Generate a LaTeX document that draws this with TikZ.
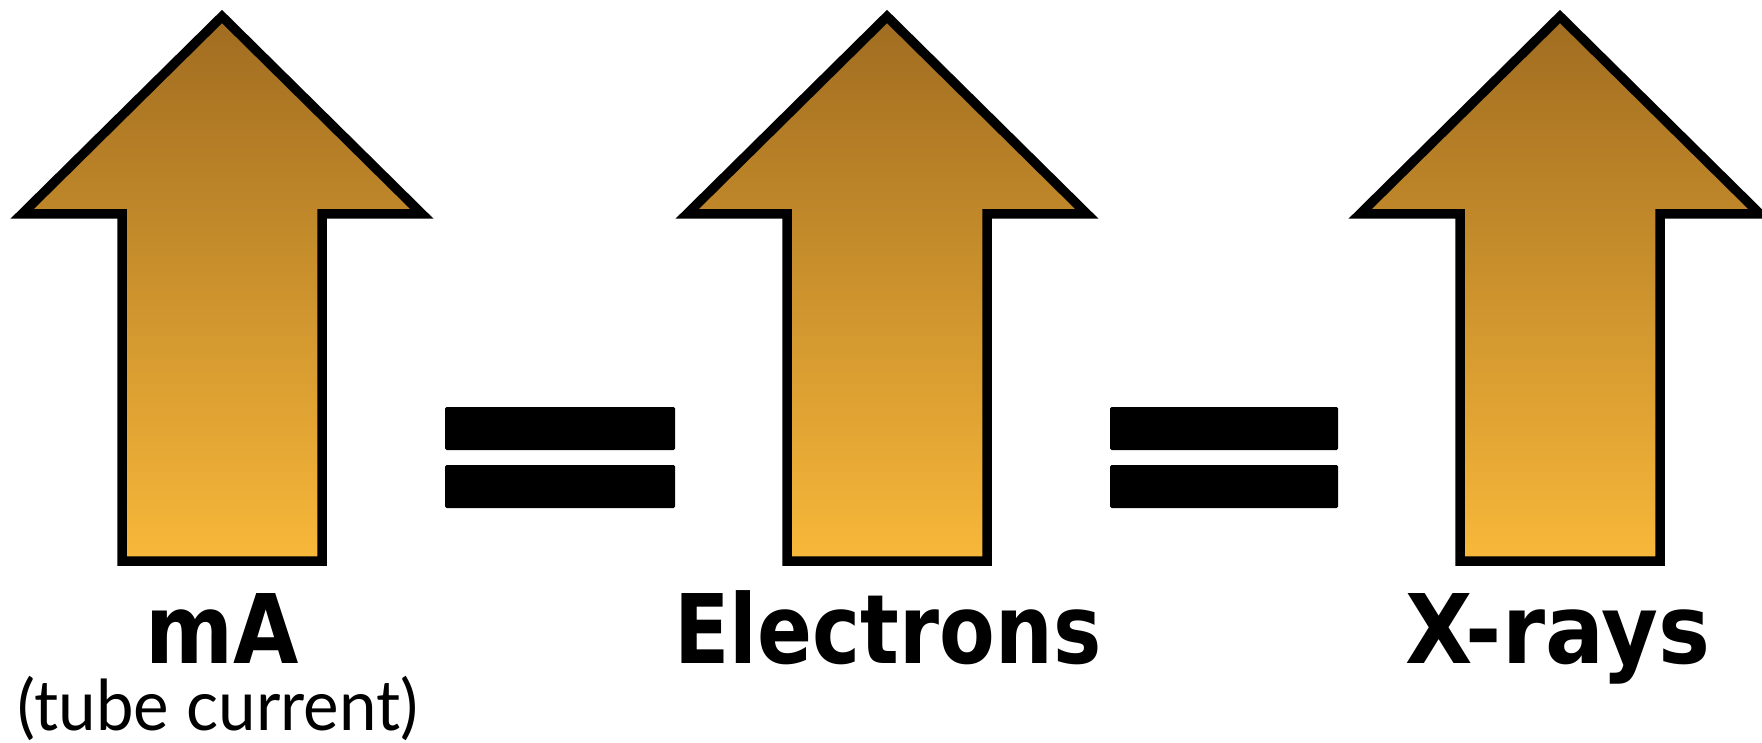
\documentclass[tikz,border=0pt]{standalone}
\usepackage{fontspec}
\newfontfamily\labfont{DejaVu Sans}
\newfontfamily\subfont{Lato}
\begin{document}
\begin{tikzpicture}[x=1pt,y=-1pt,
  uparrow/.style={draw=black, line width=9.5pt, line join=miter, miter limit=10,
    top color={rgb,255:red,160;green,108;blue,32}, bottom color={rgb,255:red,248;green,184;blue,58}},
  eqbar/.style={fill=black, rounded corners=1.5pt},
  biglabel/.style={anchor=base, inner sep=0pt, text depth=0pt, font=\labfont\bfseries\fontsize{96}{110}\selectfont},
  smalllabel/.style={anchor=base, inner sep=0pt, font=\subfont\fontsize{70}{80}\selectfont}]
\useasboundingbox (0,0) rectangle (1762,743);
\clip (0,0) rectangle (1762,743);
\fill[white] (0,0) rectangle (1762,743);
% arrows
\foreach \c/\n in {222/a1, 887/a2, 1560/a3}{
  \draw[uparrow] (\c,16.5) -- (\c+200,214) -- (\c+100,214) -- (\c+100,561)
     -- (\c-100,561) -- (\c-100,214) -- (\c-200,214) -- cycle;
}
% equal signs
\fill[eqbar] (445,407) rectangle (675,450);
\fill[eqbar] (445,465) rectangle (675,508);
\fill[eqbar] (1110,407) rectangle (1338,450);
\fill[eqbar] (1110,465) rectangle (1338,508);
% labels
\node[biglabel] (ma) at (222,663) {\scalebox{0.88}[1]{mA}};
\node[smalllabel] (tc) at (218,730) {\scalebox{0.96}[1]{(tube current)}};
\node[biglabel] (el) at (888,663) {\scalebox{0.845}[1]{Electrons}};
\node[biglabel] (xr) at (1558,663) {\scalebox{0.91}[1]{X-rays}};
\end{tikzpicture}
\end{document}
